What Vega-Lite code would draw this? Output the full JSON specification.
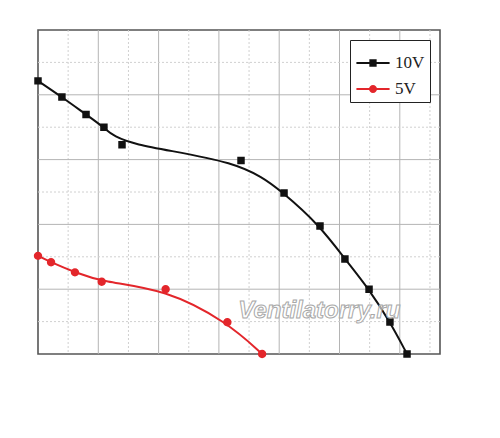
{
  "$schema": "https://vega.github.io/schema/vega-lite/v6.json",
  "width": 402,
  "height": 324,
  "padding": {"left": 14, "top": 29, "right": 10, "bottom": 10},
  "background": "white",
  "datasets": {
    "curves": [
      {"series": "10V", "flow": 0, "pressure": 843},
      {"series": "10V", "flow": 1190, "pressure": 793},
      {"series": "10V", "flow": 2390, "pressure": 739},
      {"series": "10V", "flow": 3280, "pressure": 700},
      {"series": "10V", "flow": 4180, "pressure": 646},
      {"series": "10V", "flow": 10100, "pressure": 597},
      {"series": "10V", "flow": 12240, "pressure": 497},
      {"series": "10V", "flow": 14030, "pressure": 395},
      {"series": "10V", "flow": 15270, "pressure": 293},
      {"series": "10V", "flow": 16470, "pressure": 200},
      {"series": "10V", "flow": 17510, "pressure": 99},
      {"series": "10V", "flow": 18360, "pressure": 0},
      {"series": "5V", "flow": 0, "pressure": 303},
      {"series": "5V", "flow": 650, "pressure": 283},
      {"series": "5V", "flow": 1840, "pressure": 252},
      {"series": "5V", "flow": 3170, "pressure": 223},
      {"series": "5V", "flow": 6350, "pressure": 200},
      {"series": "5V", "flow": 9420, "pressure": 98},
      {"series": "5V", "flow": 11150, "pressure": 0}
    ],
    "watermark": [
      {"flow": 14000, "pressure": 134, "label": "Ventilatorry.ru"}
    ]
  },
  "data": {"name": "curves"},
  "layer": [
    {
      "data": {"values": [{}]},
      "layer": [
        {"mark": {"type": "rule", "color": "#b4b4b4", "strokeWidth": 1}, "encoding": {"x": {"datum": 3000, "type": "quantitative", "axis": null}}},
        {"mark": {"type": "rule", "color": "#b4b4b4", "strokeWidth": 1}, "encoding": {"x": {"datum": 6000, "type": "quantitative", "axis": null}}},
        {"mark": {"type": "rule", "color": "#b4b4b4", "strokeWidth": 1}, "encoding": {"x": {"datum": 9000, "type": "quantitative", "axis": null}}},
        {"mark": {"type": "rule", "color": "#b4b4b4", "strokeWidth": 1}, "encoding": {"x": {"datum": 12000, "type": "quantitative", "axis": null}}},
        {"mark": {"type": "rule", "color": "#b4b4b4", "strokeWidth": 1}, "encoding": {"x": {"datum": 15000, "type": "quantitative", "axis": null}}},
        {"mark": {"type": "rule", "color": "#b4b4b4", "strokeWidth": 1}, "encoding": {"x": {"datum": 18000, "type": "quantitative", "axis": null}}},
        {"mark": {"type": "rule", "color": "#d0d0d0", "strokeWidth": 1, "strokeDash": [2, 2]}, "encoding": {"x": {"datum": 1500, "type": "quantitative", "axis": null}}},
        {"mark": {"type": "rule", "color": "#d0d0d0", "strokeWidth": 1, "strokeDash": [2, 2]}, "encoding": {"x": {"datum": 4500, "type": "quantitative", "axis": null}}},
        {"mark": {"type": "rule", "color": "#d0d0d0", "strokeWidth": 1, "strokeDash": [2, 2]}, "encoding": {"x": {"datum": 7500, "type": "quantitative", "axis": null}}},
        {"mark": {"type": "rule", "color": "#d0d0d0", "strokeWidth": 1, "strokeDash": [2, 2]}, "encoding": {"x": {"datum": 10500, "type": "quantitative", "axis": null}}},
        {"mark": {"type": "rule", "color": "#d0d0d0", "strokeWidth": 1, "strokeDash": [2, 2]}, "encoding": {"x": {"datum": 13500, "type": "quantitative", "axis": null}}},
        {"mark": {"type": "rule", "color": "#d0d0d0", "strokeWidth": 1, "strokeDash": [2, 2]}, "encoding": {"x": {"datum": 16500, "type": "quantitative", "axis": null}}},
        {"mark": {"type": "rule", "color": "#d0d0d0", "strokeWidth": 1, "strokeDash": [2, 2]}, "encoding": {"x": {"datum": 19500, "type": "quantitative", "axis": null}}},
        {"mark": {"type": "rule", "color": "#b4b4b4", "strokeWidth": 1}, "encoding": {"y": {"datum": 200, "type": "quantitative", "axis": null}}},
        {"mark": {"type": "rule", "color": "#b4b4b4", "strokeWidth": 1}, "encoding": {"y": {"datum": 400, "type": "quantitative", "axis": null}}},
        {"mark": {"type": "rule", "color": "#b4b4b4", "strokeWidth": 1}, "encoding": {"y": {"datum": 600, "type": "quantitative", "axis": null}}},
        {"mark": {"type": "rule", "color": "#b4b4b4", "strokeWidth": 1}, "encoding": {"y": {"datum": 800, "type": "quantitative", "axis": null}}},
        {"mark": {"type": "rule", "color": "#d0d0d0", "strokeWidth": 1, "strokeDash": [2, 2]}, "encoding": {"y": {"datum": 100, "type": "quantitative", "axis": null}}},
        {"mark": {"type": "rule", "color": "#d0d0d0", "strokeWidth": 1, "strokeDash": [2, 2]}, "encoding": {"y": {"datum": 300, "type": "quantitative", "axis": null}}},
        {"mark": {"type": "rule", "color": "#d0d0d0", "strokeWidth": 1, "strokeDash": [2, 2]}, "encoding": {"y": {"datum": 500, "type": "quantitative", "axis": null}}},
        {"mark": {"type": "rule", "color": "#d0d0d0", "strokeWidth": 1, "strokeDash": [2, 2]}, "encoding": {"y": {"datum": 700, "type": "quantitative", "axis": null}}},
        {"mark": {"type": "rule", "color": "#d0d0d0", "strokeWidth": 1, "strokeDash": [2, 2]}, "encoding": {"y": {"datum": 900, "type": "quantitative", "axis": null}}}
      ]
    },
    {
      "mark": {"type": "line", "interpolate": "basis", "strokeWidth": 2},
      "encoding": {
        "x": {
          "field": "flow", "type": "quantitative",
          "scale": {"domain": [0, 20000], "nice": false},
          "axis": {
            "values": [0, 1500, 3000, 4500, 6000, 7500, 9000, 10500, 12000, 13500, 15000, 16500, 18000, 19500],
            "format": "d", "labelFlush": false, "grid": false,
            "labelExpr": "datum.value % 3000 === 0 ? datum.label : ''",
            "title": "Volume Flow Rate (m³/h)",
            "titleFont": "Liberation Serif", "titleFontSize": 17, "titleFontWeight": "normal",
            "titleColor": "#222", "titlePadding": 11,
            "labelFont": "Liberation Serif", "labelFontSize": 14, "labelColor": "#333",
            "labelPadding": 4,
            "tickSize": {"condition": {"test": "datum.value % 3000 !== 0", "value": 3}, "value": 5},
            "tickColor": "#222", "tickWidth": 1.2,
            "domainColor": "#111", "domainWidth": 1.5
          }
        },
        "y": {
          "field": "pressure", "type": "quantitative",
          "scale": {"domain": [0, 1000], "nice": false},
          "axis": {
            "values": [0, 100, 200, 300, 400, 500, 600, 700, 800, 900, 1000],
            "format": "d", "labelFlush": false, "grid": false,
            "labelExpr": "datum.value % 200 === 0 ? datum.label : ''",
            "title": "Static Pressure (Pa)", "titleY": 170,
            "titleFont": "Liberation Serif", "titleFontSize": 18, "titleFontWeight": "normal",
            "titleColor": "#222", "titlePadding": 4,
            "labelFont": "Liberation Serif", "labelFontSize": 14, "labelColor": "#333",
            "labelPadding": 4,
            "tickSize": {"condition": {"test": "datum.value % 200 !== 0", "value": 3}, "value": 5},
            "tickColor": "#222", "tickWidth": 1.2,
            "domainColor": "#111", "domainWidth": 1.5
          }
        },
        "color": {
          "field": "series", "type": "nominal",
          "scale": {"domain": ["10V", "5V"], "range": ["#111111", "#e3262b"]},
          "legend": {
            "title": null, "orient": "top-right", "offset": 10,
            "labelFont": "Liberation Serif", "labelFontSize": 17, "labelColor": "#222",
            "strokeColor": "#222", "fillColor": "white", "padding": 5,
            "symbolSize": 1100, "symbolStrokeWidth": 2, "rowPadding": 0
          }
        }
      }
    },
    {
      "mark": {"type": "point", "filled": true, "opacity": 1, "size": 2180},
      "encoding": {
        "x": {"field": "flow", "type": "quantitative"},
        "y": {"field": "pressure", "type": "quantitative"},
        "color": {"field": "series", "type": "nominal", "legend": null},
        "shape": {
          "field": "series", "type": "nominal",
          "scale": {
            "domain": ["10V", "5V"],
            "range": [
              "M-1,0H1M-0.16,-0.16H0.16V0.16H-0.16Z",
              "M-1,0H1M-0.18,0A0.18,0.18 0 1,1 0.18,0A0.18,0.18 0 1,1 -0.18,0Z"
            ]
          },
          "legend": null
        }
      }
    },
    {
      "data": {"name": "watermark"},
      "mark": {
        "type": "text", "font": "Liberation Sans", "fontSize": 24,
        "fontStyle": "italic", "fontWeight": "bold",
        "fill": "white", "fillOpacity": 0.6, "stroke": "#a8a8a8", "strokeWidth": 1
      },
      "encoding": {
        "x": {"field": "flow", "type": "quantitative"},
        "y": {"field": "pressure", "type": "quantitative"},
        "text": {"field": "label"}
      }
    }
  ],
  "config": {
    "view": {"stroke": "#555555", "strokeWidth": 1.6}
  }
}
